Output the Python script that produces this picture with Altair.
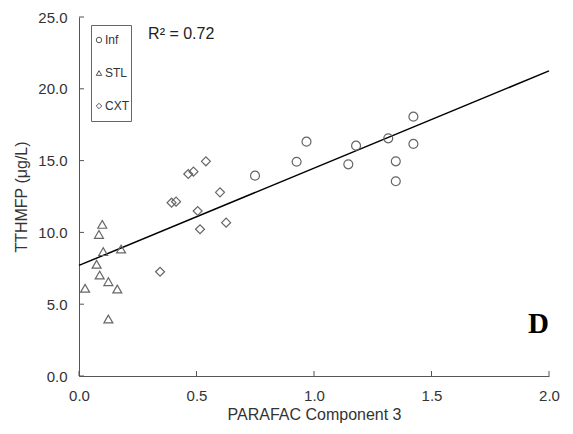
import altair as alt
import pandas as pd

# ---- data ----
inf_x = [0.749, 0.926, 0.968, 1.146, 1.179, 1.316, 1.348, 1.348, 1.423, 1.423]
inf_y = [13.95, 14.92, 16.32, 14.74, 16.04, 16.55, 14.95, 13.56, 18.06, 16.16]
stl_x = [0.026, 0.075, 0.085, 0.088, 0.099, 0.103, 0.125, 0.125, 0.163, 0.179]
stl_y = [6.11, 7.78, 9.86, 7.03, 10.56, 8.66, 6.57, 3.97, 6.06, 8.84]
cxt_x = [0.345, 0.394, 0.413, 0.465, 0.487, 0.505, 0.515, 0.540, 0.600, 0.626]
cxt_y = [7.26, 12.07, 12.14, 14.07, 14.23, 11.49, 10.22, 14.95, 12.79, 10.68]
groups = ["Inf", "STL", "CXT"]
shapes = ["circle", "triangle-up", "diamond"]

fit_x = [0.0, 2.0]
fit_y = [7.7, 21.25]

x_ticks = [0.0, 0.5, 1.0, 1.5, 2.0]
y_ticks = [0.0, 5.0, 10.0, 15.0, 20.0, 25.0]

r2_label = ["R² = 0.72"]
r2_pos = [0.294, 23.45]
panel_label = ["D"]
panel_pos = [2.0, 3.0]

FONT = "Liberation Sans"
GRAY = "#555555"
TXT = "#333333"

pts = pd.DataFrame({
    "x": inf_x + stl_x + cxt_x,
    "y": inf_y + stl_y + cxt_y,
    "site": ["Inf"] * len(inf_x) + ["STL"] * len(stl_x) + ["CXT"] * len(cxt_x),
})
fit = pd.DataFrame({"x": fit_x, "y": fit_y})
xt = pd.DataFrame({"x": x_ticks})
yt = pd.DataFrame({"y": y_ticks})
r2 = pd.DataFrame({"x": [r2_pos[0]], "y": [r2_pos[1]], "t": r2_label})
pl = pd.DataFrame({"x": [panel_pos[0]], "y": [panel_pos[1]], "t": panel_label})

xscale = alt.Scale(domain=[0, 2], nice=False, zero=False)
yscale = alt.Scale(domain=[0, 25], nice=False, zero=False)

xaxis = alt.Axis(values=x_ticks, format=".1f", title="PARAFAC Component 3",
                 ticks=False, grid=False, domainColor=GRAY, domainWidth=1,
                 labelFont=FONT, labelFontSize=15, labelColor=TXT, labelPadding=12,
                 titleFont=FONT, titleFontSize=16, titleFontWeight="normal",
                 titleColor=TXT, titlePadding=3, labelFlush=False)
yaxis = alt.Axis(values=y_ticks, format=".1f", title="TTHMFP (μg/L)",
                 ticks=False, grid=False, domainColor=GRAY, domainWidth=1,
                 labelFont=FONT, labelFontSize=15, labelColor=TXT, labelPadding=12,
                 titleFont=FONT, titleFontSize=16, titleFontWeight="normal",
                 titleColor=TXT, titlePadding=8, labelFlush=False)

points = alt.Chart(pts).mark_point(filled=False, size=80, strokeWidth=1.2, opacity=1).encode(
    x=alt.X("x:Q", scale=xscale, axis=xaxis),
    y=alt.Y("y:Q", scale=yscale, axis=yaxis),
    shape=alt.Shape("site:N", scale=alt.Scale(domain=groups, range=shapes),
                    legend=alt.Legend(orient="none", legendX=12, legendY=8, title=None,
                                      strokeColor="#666666", fillColor="white",
                                      padding=2, clipHeight=26, rowPadding=7,
                                      symbolSize=30, symbolStrokeWidth=1,
                                      symbolStrokeColor="#555555", symbolFillColor="white",
                                      labelFont=FONT, labelFontSize=12, labelColor=TXT,
                                      labelOffset=0)),
    color=alt.value("#666666"),
)

line = alt.Chart(fit).mark_line(color="black", strokeWidth=1.5).encode(
    x=alt.X("x:Q", scale=xscale), y=alt.Y("y:Q", scale=yscale))

xticks = alt.Chart(xt).mark_rule(color=GRAY, strokeWidth=1, y2Offset=-5).encode(
    x=alt.X("x:Q", scale=xscale), y=alt.datum(0), y2=alt.datum(0))
yticks = alt.Chart(yt).mark_rule(color=GRAY, strokeWidth=1, x2Offset=5).encode(
    y=alt.Y("y:Q", scale=yscale), x=alt.datum(0), x2=alt.datum(0))

r2_text = alt.Chart(r2).mark_text(align="left", baseline="alphabetic", font=FONT,
                                  fontSize=16, color="#222222").encode(
    x=alt.X("x:Q", scale=xscale), y=alt.Y("y:Q", scale=yscale), text="t:N")
d_text = alt.Chart(pl).mark_text(align="right", baseline="alphabetic", font="Liberation Serif",
                                 fontSize=29, fontWeight="bold", color="black").encode(
    x=alt.X("x:Q", scale=xscale), y=alt.Y("y:Q", scale=yscale), text="t:N")

chart = alt.layer(line, points, xticks, yticks, r2_text, d_text).properties(
    width=470, height=359,
    autosize=alt.AutoSizeParams(type="none"),
    padding={"left": 79, "top": 17, "right": 24, "bottom": 58},
    background="white",
).configure_view(stroke=None)

chart.save("out.html", embed_options={"renderer": "svg", "actions": False})
